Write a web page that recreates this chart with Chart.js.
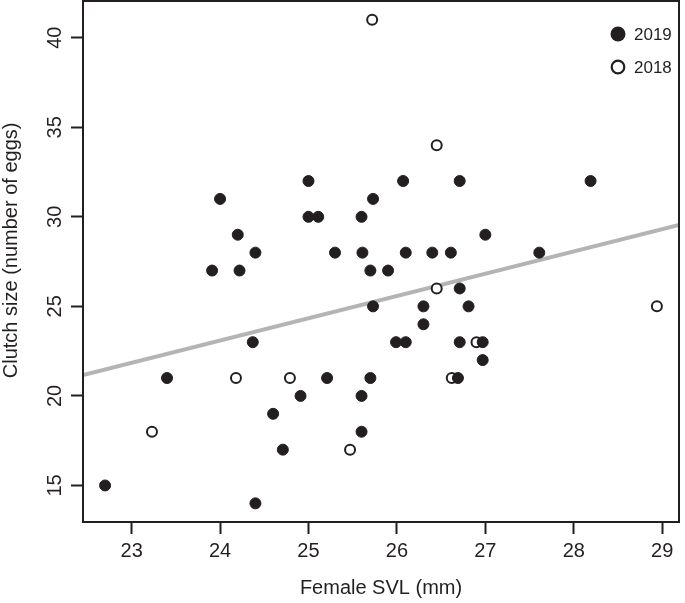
<!DOCTYPE html>
<html>
<head>
<meta charset="utf-8">
<script src="https://cdn.jsdelivr.net/npm/chart.js@4.4.0/dist/chart.umd.min.js"></script>
<style>
html, body { margin: 0; padding: 0; background: #fff; }
</style>
</head>
<body>
<canvas id="myChart" width="685" height="603"></canvas>
<script>
// Female SVL (mm) and clutch size, 2019 (filled)
var svl2019 = [22.70, 23.40, 23.91, 24.00, 24.20, 24.22, 24.40, 24.37, 24.40, 24.60, 24.71, 24.91,
    25.00, 25.00, 25.11, 25.21, 25.30, 25.60, 25.61, 25.60, 25.60, 25.70, 25.73, 25.73, 25.70,
    25.90, 25.99, 26.07, 26.10, 26.10, 26.30, 26.30, 26.40, 26.61, 26.71, 26.71, 26.71, 26.69,
    26.81, 26.97, 26.97, 27.00, 27.61, 28.19];
var clutch2019 = [15, 21, 27, 31, 29, 27, 28, 23, 14, 19, 17, 20,
    32, 30, 30, 21, 28, 30, 28, 20, 18, 27, 31, 25, 21,
    27, 23, 32, 28, 23, 25, 24, 28, 28, 32, 26, 23, 21,
    25, 23, 22, 29, 28, 32];
// 2018 (open)
var svl2018 = [23.23, 24.18, 24.79, 25.47, 25.72, 26.45, 26.45, 26.62, 26.90, 28.94];
var clutch2018 = [18, 21, 21, 17, 41, 34, 26, 21, 23, 25];
// fitted line, read at the two edges of the plot
var fitSvl = [22.45, 29.19];
var fitClutch = [21.16, 29.54];
var xTicks = [23, 24, 25, 26, 27, 28, 29];
var yTicks = [15, 20, 25, 30, 35, 40];
var legendLabels = ["2019", "2018"];

var ink = "#231f20";
var fontFamily = "'Liberation Sans', Arial, Helvetica, sans-serif";

function toPoints(xs, ys) {
    var out = [];
    for (var i = 0; i < xs.length; i++) out.push({x: xs[i], y: ys[i]});
    return out;
}

// box round the plot area + legend in the top right corner
var boxPlugin = {
    id: 'box',
    afterDraw: function(chart) {
        var ctx = chart.ctx;
        var a = chart.chartArea;
        ctx.save();
        ctx.strokeStyle = ink;
        ctx.lineWidth = 2;
        ctx.strokeRect(a.left, a.top, a.right - a.left, a.bottom - a.top);

        var lx = a.right - 61;
        var ly = [a.top + 33, a.top + 66];
        for (var i = 0; i < 2; i++) {
            var ds = chart.data.datasets[i];
            ctx.beginPath();
            ctx.arc(lx, ly[i], i === 0 ? 7.5 : 6.3, 0, Math.PI * 2);
            ctx.fillStyle = ds.pointBackgroundColor;
            ctx.fill();
            if (i === 1) {
                ctx.lineWidth = 2.2;
                ctx.strokeStyle = ds.pointBorderColor;
                ctx.stroke();
            }
            ctx.fillStyle = ink;
            ctx.font = "17px " + fontFamily;
            ctx.textAlign = "left";
            ctx.textBaseline = "middle";
            ctx.fillText(legendLabels[i], lx + 16, ly[i] + 1);
        }
        ctx.restore();
    }
};

var ctx = document.getElementById("myChart").getContext('2d');
var myChart = new Chart(ctx, {
    type: 'scatter',
    data: {
        datasets: [{
            label: legendLabels[0],
            data: toPoints(svl2019, clutch2019),
            pointRadius: 5.5,
            pointBorderWidth: 1,
            pointBackgroundColor: ink,
            pointBorderColor: ink,
            pointHoverRadius: 5.5
        }, {
            label: legendLabels[1],
            data: toPoints(svl2018, clutch2018),
            pointRadius: 5,
            pointBorderWidth: 2,
            pointBackgroundColor: "#ffffff",
            pointBorderColor: ink,
            pointHoverRadius: 5
        }, {
            label: "fit",
            data: toPoints(fitSvl, fitClutch),
            showLine: true,
            borderColor: "#b4b4b4",
            borderWidth: 4,
            pointRadius: 0,
            fill: false
        }]
    },
    options: {
        responsive: false,
        animation: false,
        devicePixelRatio: 1,
        layout: { autoPadding: false, padding: { top: 1, right: 6, left: 0, bottom: 0 } },
        plugins: {
            legend: { display: false },
            tooltip: { enabled: false }
        },
        scales: {
            x: {
                type: 'linear',
                min: 22.45,
                max: 29.19,
                afterBuildTicks: function(scale) {
                    scale.ticks = xTicks.map(function(v) { return {value: v}; });
                },
                afterFit: function(scale) {
                    scale.height = 81;
                    scale.paddingLeft = 0;
                    scale.paddingRight = 0;
                },
                ticks: {
                    autoSkip: false,
                    maxRotation: 0,
                    padding: 5,
                    color: ink,
                    font: { family: fontFamily, size: 20 }
                },
                grid: {
                    drawOnChartArea: false,
                    drawTicks: true,
                    tickLength: 12,
                    tickWidth: 2,
                    tickColor: ink
                },
                border: { display: false },
                title: {
                    display: true,
                    text: "Female SVL (mm)",
                    color: ink,
                    font: { family: fontFamily, size: 20 },
                    padding: { top: 0, bottom: 3 }
                }
            },
            y: {
                type: 'linear',
                min: 12.96,
                max: 42.05,
                afterBuildTicks: function(scale) {
                    scale.ticks = yTicks.map(function(v) { return {value: v}; });
                },
                afterFit: function(scale) {
                    scale.width = 83;
                    scale.paddingTop = 0;
                    scale.paddingBottom = 0;
                },
                ticks: {
                    autoSkip: false,
                    minRotation: 90,
                    maxRotation: 90,
                    crossAlign: 'center',
                    padding: 4,
                    color: ink,
                    font: { family: fontFamily, size: 20 }
                },
                grid: {
                    drawOnChartArea: false,
                    drawTicks: true,
                    tickLength: 12,
                    tickWidth: 2,
                    tickColor: ink
                },
                border: { display: false },
                title: {
                    display: true,
                    text: "\u00a0\u00a0\u00a0\u00a0Clutch size (number of eggs)",
                    color: ink,
                    font: { family: fontFamily, size: 20, lineHeight: 1 },
                    padding: { top: 1, bottom: 0 }
                }
            }
        }
    },
    plugins: [boxPlugin]
});
</script>
</body>
</html>
